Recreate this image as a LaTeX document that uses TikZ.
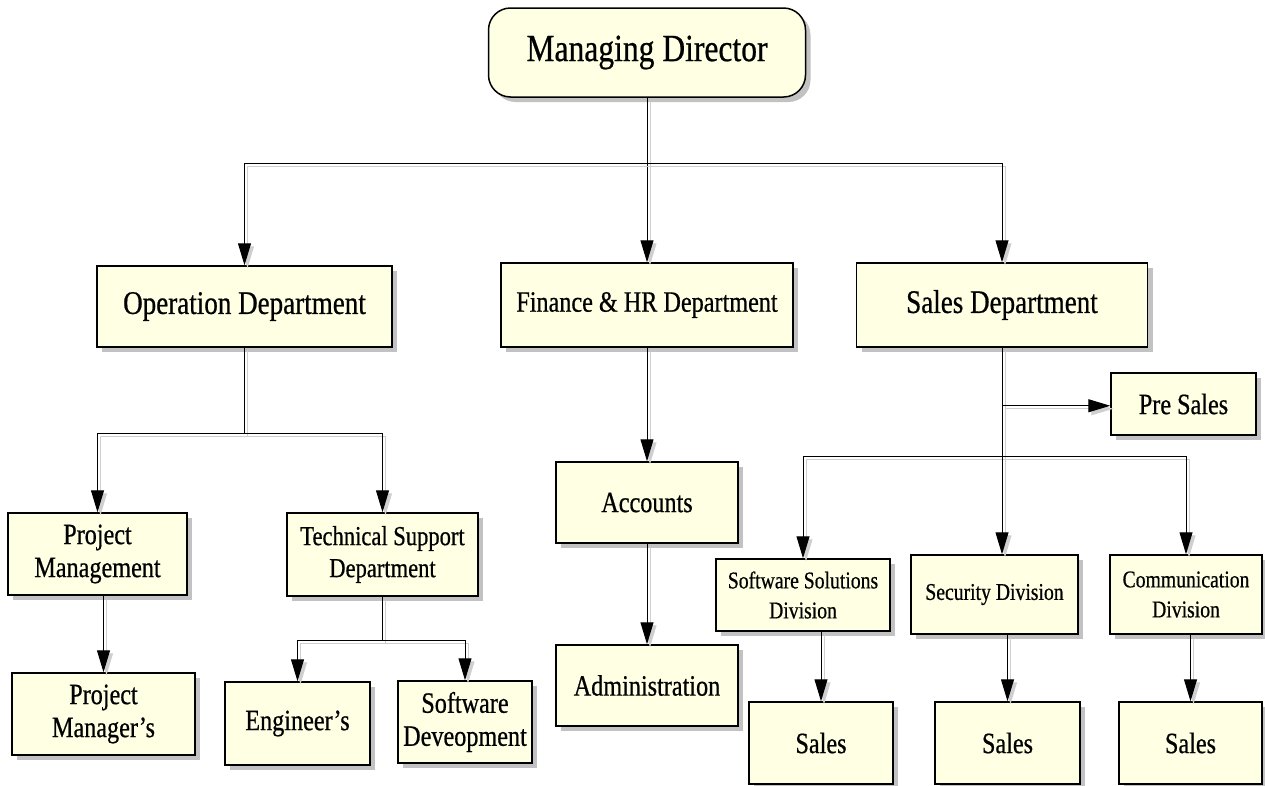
\documentclass[tikz,border=0pt]{standalone}
\usepackage{fontspec}
\setmainfont{Liberation Serif}[FakeStretch=0.82, FakeBold=0.6]
\usepackage{xcolor}
\usepackage{tikz}
\usetikzlibrary{arrows.meta, shadows}
\definecolor{paper}{HTML}{FFFFE3}
\definecolor{shade}{HTML}{C2C2C2}
\definecolor{ghost}{HTML}{CFCFCF}
\tikzset{
  unit/.style  = {draw=black, line width=1.5pt, fill=paper, rectangle, align=center, inner sep=2pt,
                  drop shadow={shadow xshift=5pt, shadow yshift=-5pt, fill=shade, opacity=1}},
  head/.style  = {unit, rounded corners=22pt, font=\fontsize{38.5}{44}\selectfont},
  dept/.style  = {unit, font=\fontsize{33}{39}\selectfont},
  team/.style  = {unit, font=\fontsize{29.5}{33}\selectfont},
  cell/.style  = {unit, font=\fontsize{24}{30}\selectfont},
  trunk/.style = {draw=black, line width=1pt,
                  preaction={draw=ghost, line width=1pt, transform canvas={shift={(3pt,-3pt)}}}},
  link/.style  = {trunk, -{Triangle[length=22pt, width=13pt]}},
}
\begin{document}
\begin{tikzpicture}[x=1pt, y=-1pt]
  \useasboundingbox (0,0) rectangle (1265,785);

  \node[head, minimum width=317pt, minimum height=89pt] (md) at (647,52.5) {Managing Director};

  \node[dept, minimum width=295pt, minimum height=81pt] (ops) at (244.5,306.5) {Operation Department};
  \node[team, minimum width=292pt, minimum height=84pt] (fin) at (647,305) {Finance \& HR Department};
  \node[dept, minimum width=291pt, minimum height=84pt] (sal) at (1002,305) {Sales Department};

  \node[team, minimum width=179pt, minimum height=82pt] (pm)   at (97.5,554)   {Project\\Management};
  \node[team, minimum width=191pt, minimum height=83pt, font=\fontsize{27.5}{32}\selectfont] (ts) at (382.5,554.5) {Technical Support\\Department};
  \node[team, minimum width=183pt, minimum height=82pt] (pmgr) at (103.5,714)  {Project\\Manager’s};
  \node[team, minimum width=145pt, minimum height=83pt] (eng)  at (297.5,723.5) {Engineer’s};
  \node[team, minimum width=134pt, minimum height=82pt] (sw)   at (465,722)    {Software\\Deveopment};

  \node[team, minimum width=182pt, minimum height=81pt] (acc) at (647,502.5) {Accounts};
  \node[team, minimum width=182pt, minimum height=81pt] (adm) at (647,685.5) {Administration};

  \node[team, minimum width=145pt, minimum height=62pt] (pre) at (1183.5,404)  {Pre Sales};
  \node[cell, minimum width=174pt, minimum height=72pt] (ssd) at (803,595)     {Software Solutions\\Division};
  \node[cell, minimum width=167pt, minimum height=79pt] (sec) at (994.5,594.5) {Security Division};
  \node[cell, minimum width=152pt, minimum height=79pt] (com) at (1186,594.5)  {Communication\\Division};
  \node[team, minimum width=144pt, minimum height=82pt] (s1)  at (821,743)     {Sales};
  \node[team, minimum width=145pt, minimum height=82pt] (s2)  at (1007.5,743)  {Sales};
  \node[team, minimum width=143pt, minimum height=82pt] (s3)  at (1190.5,743)  {Sales};

  \path (md.south)  ++(0,66)  coordinate (mdbus);
  \path (ops.south) ++(0,86)  coordinate (opsbus);
  \path (ts.south)  ++(0,44)  coordinate (tsbus);
  \path (sal.south) ++(0,58)  coordinate (prebus);
  \path (sal.south) ++(0,109) coordinate (salbus);

  \draw[link] (md) -- (fin);
  \draw[link] (mdbus) -| (ops);
  \draw[link] (mdbus) -| (sal);

  \draw[trunk] (ops) -- (opsbus);
  \draw[link] (opsbus) -| (pm);
  \draw[link] (opsbus) -| (ts);
  \draw[link] (pmgr.north |- pm.south) -- (pmgr);
  \draw[trunk] (ts) -- (tsbus);
  \draw[link] (tsbus) -| (eng);
  \draw[link] (tsbus) -| (sw);

  \draw[link] (fin) -- (acc);
  \draw[link] (acc) -- (adm);

  \draw[trunk] (sal) -- (salbus);
  \draw[link] (prebus) -- (prebus -| pre.west);
  \draw[link] (salbus) -| (ssd);
  \draw[link] (salbus) -- (salbus |- sec.north);
  \draw[link] (salbus) -| (com);
  \draw[link] (s1.north |- ssd.south) -- (s1);
  \draw[link] (s2.north |- sec.south) -- (s2);
  \draw[link] (s3.north |- com.south) -- (s3);
\end{tikzpicture}
\end{document}
